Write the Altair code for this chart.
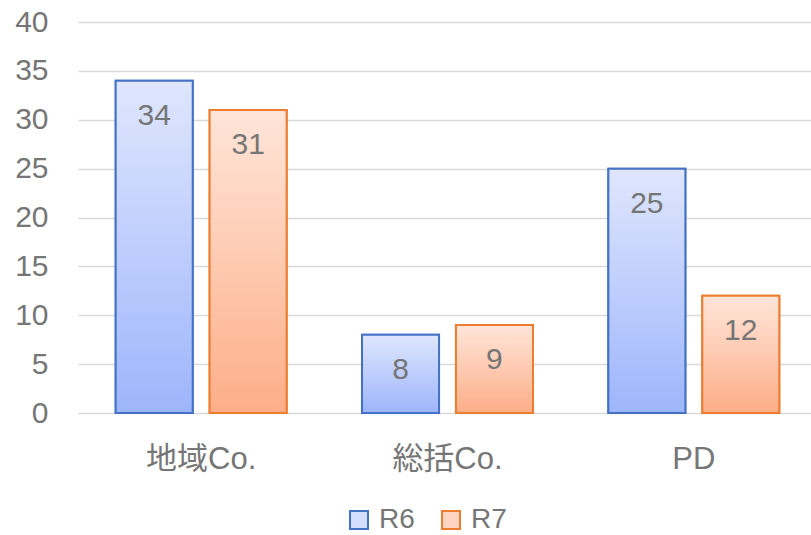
import altair as alt
import pandas as pd

categories = ["地域Co.", "総括Co.", "PD"]
series = ["R6", "R7"]
r6_values = [34, 8, 25]
r7_values = [31, 9, 12]

rows = []
for i, cat in enumerate(categories):
    rows.append({"category": cat, "series": "R6", "value": r6_values[i]})
    rows.append({"category": cat, "series": "R7", "value": r7_values[i]})
df = pd.DataFrame(rows)

FONT = "Liberation Sans, Arial, Noto Sans CJK JP"
TEXT_COLOR = "#767676"
stroke_colors = ["#4472c4", "#ed7d31"]
light_fills = ["#d3ddfc", "#fed3bf"]

blue_grad = {
    "gradient": "linear", "x1": 0, "y1": 0, "x2": 0, "y2": 1,
    "stops": [{"offset": 0, "color": "#dfe6fd"}, {"offset": 1, "color": "#9db5fb"}],
}
orange_grad = {
    "gradient": "linear", "x1": 0, "y1": 0, "x2": 0, "y2": 1,
    "stops": [{"offset": 0, "color": "#ffe5d9"}, {"offset": 1, "color": "#fdae88"}],
}

# The category band runs slightly past the right edge of the gridlines
x_enc = alt.X(
    "category:N", sort=categories, title=None,
    scale=alt.Scale(range=[0, 739], paddingInner=0.306, paddingOuter=0.153),
    axis=alt.Axis(labelAngle=0, labelPadding=31, ticks=False, domain=False, grid=False,
                  labelFontSize=31, labelColor=TEXT_COLOR, labelFont=FONT),
)
x_off = alt.XOffset("series:N", sort=series,
                    scale=alt.Scale(paddingInner=0.18, paddingOuter=0))
y_enc = alt.Y(
    "value:Q", title=None,
    scale=alt.Scale(domain=[0, 40], nice=False),
    axis=alt.Axis(values=list(range(0, 41, 5)), ticks=False, domain=False,
                  labelPadding=30, labelFontSize=30, labelColor=TEXT_COLOR,
                  labelFont=FONT, gridColor="#d9d9d9", gridWidth=1.5),
)
legend_def = alt.Legend(
    orient="none", legendX=267, legendY=484, direction="horizontal",
    symbolType="square", symbolSize=324, symbolStrokeWidth=2,
    labelFontSize=28, labelColor=TEXT_COLOR, labelFont=FONT,
    labelOffset=6, columnPadding=22,
)
stroke_enc = alt.Stroke(
    "series:N", sort=series, title=None,
    scale=alt.Scale(domain=series, range=stroke_colors), legend=legend_def,
)
fill_enc = alt.Fill(
    "series:N", sort=series, title=None,
    scale=alt.Scale(domain=series, range=light_fills), legend=legend_def,
)

base = alt.Chart(df)

# Solid-filled bars underneath supply the shared legend
legend_bars = base.mark_bar(strokeWidth=2).encode(
    x=x_enc, xOffset=x_off, y=y_enc, fill=fill_enc, stroke=stroke_enc,
)

# Gradient-filled bars drawn on top
grad_bars = base.mark_bar(strokeWidth=2).encode(
    x=x_enc, xOffset=x_off, y=y_enc,
    fill=alt.condition(alt.datum.series == "R6", alt.value(blue_grad), alt.value(orange_grad)),
    stroke=stroke_enc,
)

labels = base.mark_text(
    baseline="middle", align="center", dy=35, fontSize=30, color=TEXT_COLOR, font=FONT,
).encode(
    x=x_enc, xOffset=x_off, y=y_enc, text=alt.Text("value:Q"),
)

chart = alt.layer(legend_bars, grad_bars, labels).properties(
    width=733, height=391,
    autosize=alt.AutoSizeParams(type="none"),
    padding={"left": 78, "top": 22, "right": 0, "bottom": 122},
).configure(background="white").configure_view(stroke=None)

chart.save("out.html", embed_options={"renderer": "svg", "actions": False})
